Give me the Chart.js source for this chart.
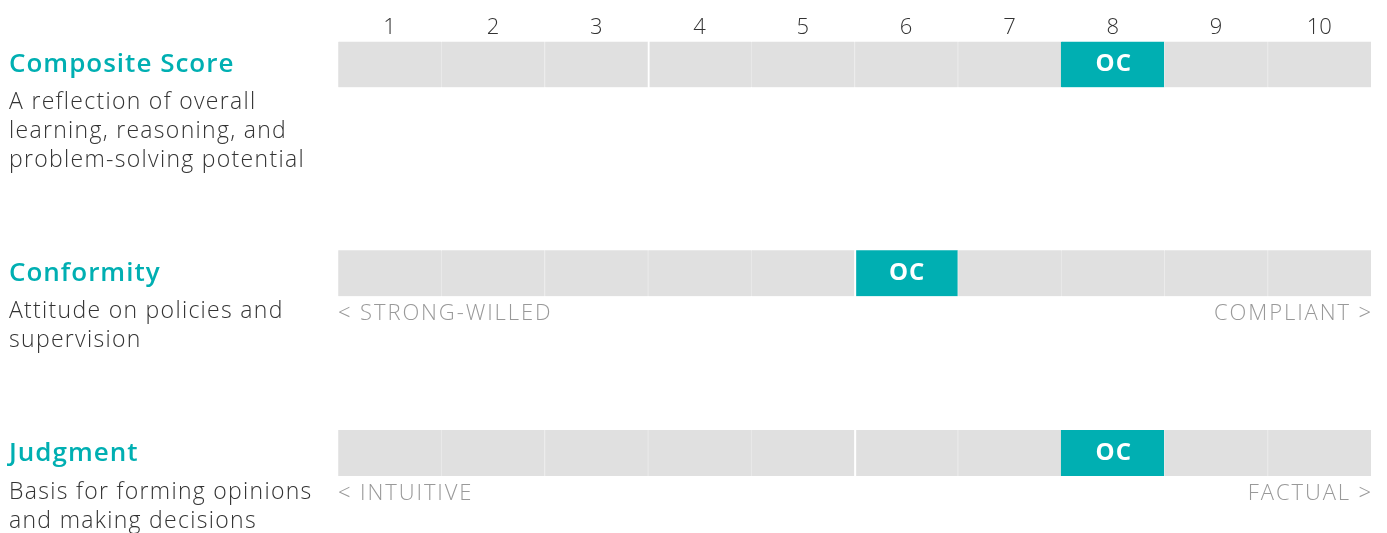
<!DOCTYPE html>
<html>
<head>
<meta charset="utf-8">
<script src="https://cdn.jsdelivr.net/npm/chart.js@4.4.1/dist/chart.umd.min.js"></script>
<style>
  html, body { margin: 0; padding: 0; background: #fff; }
  #wrap { position: relative; width: 1387px; height: 533px; overflow: hidden; }
  #chart { position: absolute; left: 0; top: 0; }
  .title { position: absolute; left: 9px; font-family: "Open Sans", sans-serif; font-weight: 600; font-size: 26px; color: #00AFB2; line-height: 30px; white-space: nowrap; letter-spacing: 1px; }
  .desc { position: absolute; left: 9px; font-family: "Open Sans", sans-serif; font-weight: 300; font-size: 23px; color: #333; line-height: 29px; white-space: nowrap; letter-spacing: 1.3px; }
</style>
</head>
<body>
<div id="wrap">
  <canvas id="chart" width="1387" height="533"></canvas>
</div>
<script>
// ---- data ----
const categories = ['1', '2', '3', '4', '5', '6', '7', '8', '9', '10'];
const rowNames = ['Composite Score', 'Conformity', 'Judgment'];
const rowDescriptions = [
  ['A reflection of overall', 'learning, reasoning, and', 'problem-solving potential'],
  ['Attitude on policies and', 'supervision'],
  ['Basis for forming opinions', 'and making decisions']
];
const scores = [8, 6, 8];
const scoreLabel = 'OC';
const lowEndLabels = ['', '< STRONG-WILLED', '< INTUITIVE'];
const highEndLabels = ['', 'COMPLIANT >', 'FACTUAL >'];

// ---- layout / style ----
const ROW_BANDS = [[41, 87], [250, 296], [430, 476]];   // vertical extent of each row (y units)
const TITLE_TOPS = [47, 256, 436];
const DESC_TOPS = [86, 295, 476];
const WHITE_GAP_BEFORE = [[4], [6], [6]];               // cells drawn with a white left edge
const TEAL = '#00AFB2';
const GRAY = '#E0E0E0';
const FONT = '"Open Sans", sans-serif';

// left-side text
const wrap = document.getElementById('wrap');
rowNames.forEach((name, i) => {
  const t = document.createElement('div');
  t.className = 'title';
  t.style.top = TITLE_TOPS[i] + 'px';
  t.textContent = name;
  wrap.appendChild(t);
  const d = document.createElement('div');
  d.className = 'desc';
  d.style.top = DESC_TOPS[i] + 'px';
  d.innerHTML = rowDescriptions[i].map(s => s.replace(/&/g, '&amp;').replace(/</g, '&lt;')).join('<br>');
  wrap.appendChild(d);
});

const cellLabelPlugin = {
  id: 'cellLabels',
  afterDatasetsDraw(chart) {
    const ctx = chart.ctx;
    ctx.save();
    ctx.font = '700 24px ' + FONT;
    if ('letterSpacing' in ctx) ctx.letterSpacing = '1px';
    ctx.fillStyle = '#ffffff';
    ctx.textAlign = 'center';
    ctx.textBaseline = 'middle';
    chart.data.datasets.forEach((ds, i) => {
      const el = chart.getDatasetMeta(i).data[scores[i] - 1];
      if (!el) return;
      ctx.fillText(scoreLabel, el.x + 1, (el.y + el.base) / 2);
    });
    // end labels below rows
    const ca = chart.chartArea;
    const ys = chart.scales.y;
    ctx.font = '300 22px ' + FONT;
    if ('letterSpacing' in ctx) ctx.letterSpacing = '1.9px';
    ctx.fillStyle = '#999999';
    ctx.textBaseline = 'middle';
    rowNames.forEach((n, i) => {
      const y = ys.getPixelForValue(ROW_BANDS[i][1]) + 18;
      if (lowEndLabels[i]) { ctx.textAlign = 'left'; ctx.fillText(lowEndLabels[i], ca.left, y); }
      if (highEndLabels[i]) { ctx.textAlign = 'right'; ctx.fillText(highEndLabels[i], ca.right + 2, y); }
    });
    ctx.restore();
  }
};

new Chart(document.getElementById('chart'), {
  type: 'bar',
  data: {
    labels: categories,
    datasets: rowNames.map((name, i) => ({
      label: name,
      data: categories.map(() => ROW_BANDS[i]),
      backgroundColor: categories.map((c, j) => (j + 1 === scores[i] ? TEAL : GRAY)),
      borderColor: categories.map((c, j) => (WHITE_GAP_BEFORE[i].includes(j + 1) ? '#FFFFFF' : (j + 1 === scores[i] ? TEAL : '#EAEAEA'))),
      borderWidth: categories.map((c, j) => ({ left: WHITE_GAP_BEFORE[i].includes(j + 1) ? 2 : 1, right: 0, top: 0, bottom: 0 })),
      borderSkipped: false,
      categoryPercentage: 1,
      barPercentage: 1,
      grouped: false
    }))
  },
  options: {
    responsive: false,
    animation: false,
    events: [],
    layout: { padding: { left: 338, right: 16, top: 15, bottom: 57 } },
    plugins: { legend: { display: false }, tooltip: { enabled: false } },
    scales: {
      x: {
        type: 'category',
        position: 'top',
        grid: { display: false, drawTicks: false },
        border: { display: false },
        ticks: { color: '#333', font: { family: FONT, size: 22, weight: '300' }, padding: 0, maxRotation: 0 }
      },
      y: {
        type: 'linear',
        reverse: true,
        min: 41,
        max: 476,
        display: false
      }
    }
  },
  plugins: [cellLabelPlugin]
});
</script>
</body>
</html>
